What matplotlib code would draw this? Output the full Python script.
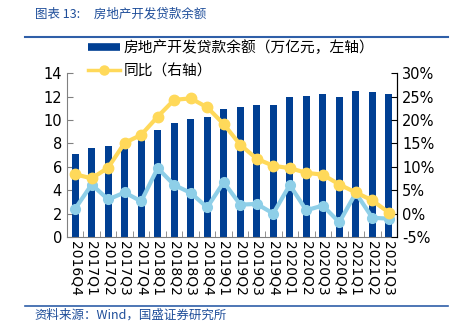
import matplotlib
matplotlib.use("Agg")
import matplotlib.pyplot as plt
from matplotlib.ticker import FixedLocator, FuncFormatter
from matplotlib.lines import Line2D
import numpy as np

plt.rcParams['font.family'] = ['DejaVu Sans', 'Noto Sans CJK SC']
CJK = ['Noto Sans CJK SC', 'DejaVu Sans']

categories = ["2016Q4", "2017Q1", "2017Q2", "2017Q3", "2017Q4",
              "2018Q1", "2018Q2", "2018Q3", "2018Q4",
              "2019Q1", "2019Q2", "2019Q3", "2019Q4",
              "2020Q1", "2020Q2", "2020Q3", "2020Q4",
              "2021Q1", "2021Q2", "2021Q3"]
balance = [7.1, 7.58, 7.78, 7.95, 8.35, 9.15, 9.72, 10.08, 10.23,
           10.9, 11.08, 11.3, 11.28, 11.94, 12.02, 12.22, 11.97,
           12.48, 12.37, 12.22]
yoy = [8.4, 7.5, 9.8, 15.1, 16.8, 20.7, 24.3, 24.6, 22.7,
       19.1, 14.7, 11.7, 10.2, 9.7, 8.7, 8.3, 6.2, 4.5, 2.8, 0.2]
qoq = [1.0, 6.2, 3.0, 4.5, 2.6, 9.7, 6.1, 4.4, 1.3,
       6.7, 1.9, 2.05, 0.0, 6.1, 0.7, 1.7, -1.9, 4.4, -0.9, -1.1]

bar_label = "房地产开发贷款余额（万亿元，左轴）"
yoy_label = "同比（右轴）"
title_text = "图表 13:     房地产开发贷款余额"
source_text = "资料来源：Wind，国盛证券研究所"

bar_color = "#003F93"
yellow = "#FFD95A"
lightblue = "#8ECFE8"
text_blue = "#1F4E9A"

fig = plt.figure(figsize=(4.58, 3.25), dpi=100)
ax = fig.add_axes([0.146, 0.271, 0.721, 0.504])
ax2 = ax.twinx()

x = np.arange(len(categories))
ax.bar(x, balance, width=0.42, color=bar_color, zorder=2)
ax.set_ylim(0, 14)
ax.set_yticks(np.arange(0, 15, 2))
ax.set_xlim(-0.5, len(categories) - 0.5)
ax.set_xticks(x)
ax.set_xticklabels(categories, rotation=-90, fontsize=10)
ax.xaxis.set_minor_locator(FixedLocator(np.arange(-0.5, len(categories), 1)))
ax.tick_params(axis='x', which='major', length=0, pad=3)
ax.tick_params(axis='x', which='minor', direction='in', length=4, color='#808080')
ax.tick_params(axis='y', direction='in', length=4, labelsize=10.5, color='#808080')

ax2.plot(x, qoq, color=lightblue, lw=3, marker='o', ms=7, zorder=3)
ax2.plot(x, yoy, color=yellow, lw=3, marker='o', ms=7.5, zorder=4)
ax2.set_ylim(-5, 30)
ax2.set_yticks(np.arange(-5, 31, 5))
ax2.yaxis.set_major_formatter(FuncFormatter(lambda v, p: f"{int(v)}%"))
ax2.tick_params(axis='y', direction='in', length=4, labelsize=10.5, color='black')

for a in (ax, ax2):
    a.spines['top'].set_visible(False)
ax.spines['left'].set_color('#808080')
ax.spines['bottom'].set_color('#808080')
ax2.spines['left'].set_visible(False)
ax2.spines['bottom'].set_visible(False)
ax2.spines['right'].set_color('black')

handles = [Line2D([0], [0], color=bar_color, lw=5.5, solid_capstyle='butt'),
           Line2D([0], [0], color=yellow, lw=2.5, marker='o', ms=6.5)]
fig.legend(handles, [bar_label, yoy_label], loc='upper left',
           bbox_to_anchor=(0.192, 0.875), frameon=False,
           prop={'family': CJK, 'size': 10.6},
           handlelength=2.2, handletextpad=0.25, labelspacing=0.6,
           borderaxespad=0, borderpad=0)

fig.text(0.076, 0.958, title_text, fontsize=9, color=text_blue, style='italic',
         va='center', ha='left', family=CJK)
fig.add_artist(Line2D([0.055, 0.978], [0.886, 0.886], color='#2F5FA8', lw=1.5))
fig.add_artist(Line2D([0.055, 0.978], [0.058, 0.058], color='#2F5FA8', lw=1.2))
fig.text(0.076, 0.03, source_text, fontsize=9, color=text_blue, style='italic',
         va='center', ha='left', family=CJK)

fig.savefig("out.png", dpi=100)
